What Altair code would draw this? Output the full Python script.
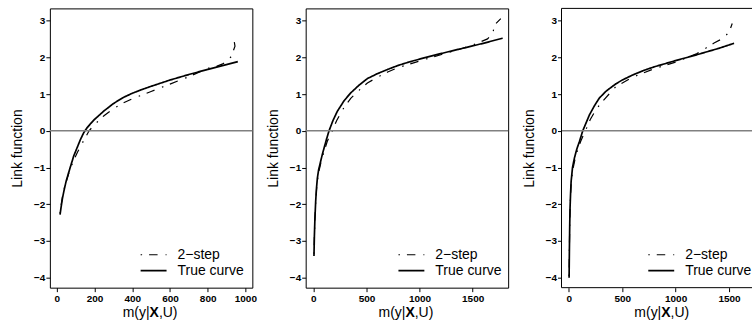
import altair as alt
import pandas as pd

# ---------------- data ----------------
SERIES = ["2\u2212step", "True curve"]

P1_TRUE_X = [17, 22, 30, 40, 50, 62, 75, 90, 110, 125, 143, 160, 180, 200, 250, 300, 350, 400, 450, 500, 600, 700, 800, 900, 960]
P1_TRUE_Y = [-2.28, -2.1, -1.83, -1.58, -1.36, -1.15, -0.93, -0.68, -0.43, -0.24, -0.05, 0.08, 0.2, 0.31, 0.54, 0.74, 0.9, 1.02, 1.12, 1.21, 1.38, 1.53, 1.67, 1.80, 1.88]
P1_STEP_X = [17, 25, 35, 50, 70, 90, 110, 130, 150, 171, 200, 250, 300, 350, 400, 450, 500, 600, 700, 800, 850, 880, 905, 925, 945, 935]
P1_STEP_Y = [-2.25, -1.95, -1.65, -1.38, -1.05, -0.8, -0.58, -0.38, -0.2, 0.0, 0.17, 0.41, 0.6, 0.75, 0.87, 0.97, 1.07, 1.27, 1.47, 1.7, 1.76, 1.82, 1.9, 2.02, 2.3, 2.62]

P2_TRUE_X = [6, 10, 15, 22, 30, 38, 50, 69, 85, 101, 125, 148, 185, 226, 290, 352, 430, 509, 600, 700, 800, 900, 1000, 1200, 1400, 1600, 1782]
P2_TRUE_Y = [-3.41, -2.85, -2.38, -1.92, -1.55, -1.29, -1.06, -0.83, -0.64, -0.47, -0.22, 0.0, 0.28, 0.53, 0.82, 1.03, 1.24, 1.42, 1.55, 1.67, 1.78, 1.87, 1.95, 2.1, 2.24, 2.38, 2.52]
P2_STEP_X = [6, 10, 15, 22, 30, 40, 55, 75, 100, 130, 155, 179, 220, 290, 352, 430, 509, 600, 700, 800, 1000, 1200, 1400, 1500, 1640, 1690, 1705, 1765]
P2_STEP_Y = [-3.35, -2.85, -2.4, -1.95, -1.6, -1.33, -1.07, -0.82, -0.57, -0.3, -0.13, 0.0, 0.28, 0.64, 0.88, 1.1, 1.3, 1.45, 1.6, 1.72, 1.9, 2.07, 2.24, 2.33, 2.5, 2.65, 2.88, 3.05]

P3_TRUE_X = [3, 6, 9, 12, 17, 22, 35, 53, 75, 100, 131, 160, 193, 240, 286, 350, 442, 500, 600, 700, 800, 1000, 1200, 1400, 1547]
P3_TRUE_Y = [-4.0, -3.2, -2.55, -2.1, -1.7, -1.38, -1.0, -0.74, -0.5, -0.29, 0.0, 0.2, 0.43, 0.68, 0.89, 1.08, 1.28, 1.38, 1.52, 1.64, 1.74, 1.91, 2.07, 2.24, 2.38]
P3_STEP_X = [3, 6, 9, 12, 17, 22, 35, 55, 80, 110, 135, 156, 200, 250, 300, 440, 600, 800, 1000, 1200, 1300, 1360, 1440, 1500, 1530]
P3_STEP_Y = [-3.95, -3.15, -2.55, -2.15, -1.75, -1.45, -1.1, -0.82, -0.55, -0.3, -0.13, 0.0, 0.3, 0.55, 0.75, 1.2, 1.46, 1.69, 1.87, 2.1, 2.28, 2.39, 2.51, 2.68, 2.92]

X_DOMAINS = [[-37, 1037], [-72, 1834], [-68, 1715]]
X_TICKS = [[0, 200, 400, 600, 800, 1000], [0, 500, 1000, 1500], [0, 500, 1000, 1500]]
Y_DOMAIN = [-4.27, 3.33]
Y_TICKS = [-4, -3, -2, -1, 0, 1, 2, 3]
TITLE_PARTS = ["m(y|", "X", ",U)"]
Y_TITLE = "Link function"

FONT = "Liberation Sans"
H = 280
WIDTHS = [203, 203, 191]
LEGEND_X = [90, 92, 86]


def panel(tx, ty, sx, sy, xdom, xticks, width, legx, open_right=False):
    rows = []
    for i, (x, y) in enumerate(zip(sx, sy)):
        rows.append({"x": x, "y": y, "s": SERIES[0], "o": i})
    for i, (x, y) in enumerate(zip(tx, ty)):
        rows.append({"x": x, "y": y, "s": SERIES[1], "o": i})
    df = pd.DataFrame(rows)

    xscale = alt.Scale(domain=xdom, nice=False, zero=False)
    yscale = alt.Scale(domain=Y_DOMAIN, nice=False, zero=False)
    xaxis = alt.Axis(values=xticks, title=None, labelFlush=False,
                     labelPadding=2, labelOverlap=False, format="d")
    yaxis = alt.Axis(values=Y_TICKS, title=Y_TITLE, titleX=-32,
                     titleBaseline="middle", labelPadding=1,
                     labelOverlap=False, format="d",
                     titleFont=FONT, titleFontSize=14,
                     titleFontWeight="normal", titleColor="black")

    lines = alt.Chart(df).mark_line(color="black", clip=True).encode(
        x=alt.X("x:Q", scale=xscale, axis=xaxis),
        y=alt.Y("y:Q", scale=yscale, axis=yaxis),
        strokeDash=alt.StrokeDash(
            "s:N",
            scale=alt.Scale(domain=SERIES, range=[[1.5, 7, 8.5, 8], [1, 0]]),
            legend=alt.Legend(orient="none", legendX=legx, legendY=239, title=None,
                              symbolType="stroke", symbolSize=676,
                              symbolStrokeWidth=1.5, symbolStrokeColor="black",
                              clipHeight=16, labelFontSize=14, labelFont=FONT,
                              labelColor="black", labelOffset=10, rowPadding=0,
                              padding=0)),
        strokeWidth=alt.StrokeWidth(
            "s:N", scale=alt.Scale(domain=SERIES, range=[1.2, 1.7]), legend=None),
        order="o:Q",
    )

    zero = alt.Chart(pd.DataFrame({"y": [0]})).mark_rule(
        color="#808080", strokeWidth=1.4
    ).encode(y=alt.Y("y:Q", scale=yscale, axis=yaxis))

    t1 = alt.Chart(pd.DataFrame({"t": [TITLE_PARTS[0]]})).mark_text(
        align="right", baseline="alphabetic", font=FONT, fontSize=14, color="black"
    ).encode(x=alt.value(100), y=alt.value(309), text="t:N")
    t2 = alt.Chart(pd.DataFrame({"t": [TITLE_PARTS[1]]})).mark_text(
        align="left", baseline="alphabetic", font=FONT, fontSize=14,
        fontWeight="bold", color="black"
    ).encode(x=alt.value(100), y=alt.value(309), text="t:N")
    t3 = alt.Chart(pd.DataFrame({"t": [TITLE_PARTS[2]]})).mark_text(
        align="left", baseline="alphabetic", font=FONT, fontSize=14, color="black"
    ).encode(x=alt.value(109.3), y=alt.value(309), text="t:N")

    layers = [lines, zero, t1, t2, t3]
    if open_right:
        edges = pd.DataFrame({"ytop": [Y_DOMAIN[1]], "ybot": [Y_DOMAIN[0]],
                              "xl": [xdom[0]]})
        b = alt.Chart(edges)
        top = b.mark_rule(color="black", strokeWidth=1).encode(
            y=alt.Y("ytop:Q", scale=yscale, axis=yaxis))
        bot = b.mark_rule(color="black", strokeWidth=1).encode(
            y=alt.Y("ybot:Q", scale=yscale, axis=yaxis))
        left = b.mark_rule(color="black", strokeWidth=1).encode(
            x=alt.X("xl:Q", scale=xscale, axis=xaxis))
        layers += [top, bot, left]
        return alt.layer(*layers).properties(
            width=width, height=H, view=alt.ViewBackground(strokeOpacity=0))
    return alt.layer(*layers).properties(width=width, height=H)


p1 = panel(P1_TRUE_X, P1_TRUE_Y, P1_STEP_X, P1_STEP_Y, X_DOMAINS[0], X_TICKS[0], WIDTHS[0], LEGEND_X[0])
p2 = panel(P2_TRUE_X, P2_TRUE_Y, P2_STEP_X, P2_STEP_Y, X_DOMAINS[1], X_TICKS[1], WIDTHS[1], LEGEND_X[1])
p3 = panel(P3_TRUE_X, P3_TRUE_Y, P3_STEP_X, P3_STEP_Y, X_DOMAINS[2], X_TICKS[2], WIDTHS[2], LEGEND_X[2], open_right=True)

chart = alt.hconcat(p1, p2, p3, spacing=53.5, bounds="flush").resolve_scale(
    x="independent", y="independent", strokeDash="independent",
    strokeWidth="independent"
).properties(
    padding={"left": 10, "top": 7, "right": 0, "bottom": 0},
    background="white"
).configure_view(
    stroke="black", strokeWidth=1
).configure_axis(
    domain=False, grid=False, ticks=True, tickColor="black", tickSize=4,
    tickWidth=1, labelFont=FONT, labelFontSize=10, labelFontWeight="bold",
    labelColor="black", titleFont=FONT, titleFontSize=14,
    titleFontWeight="normal", titleColor="black"
)

chart.save("out.html", embed_options={"renderer": "svg", "actions": False})
